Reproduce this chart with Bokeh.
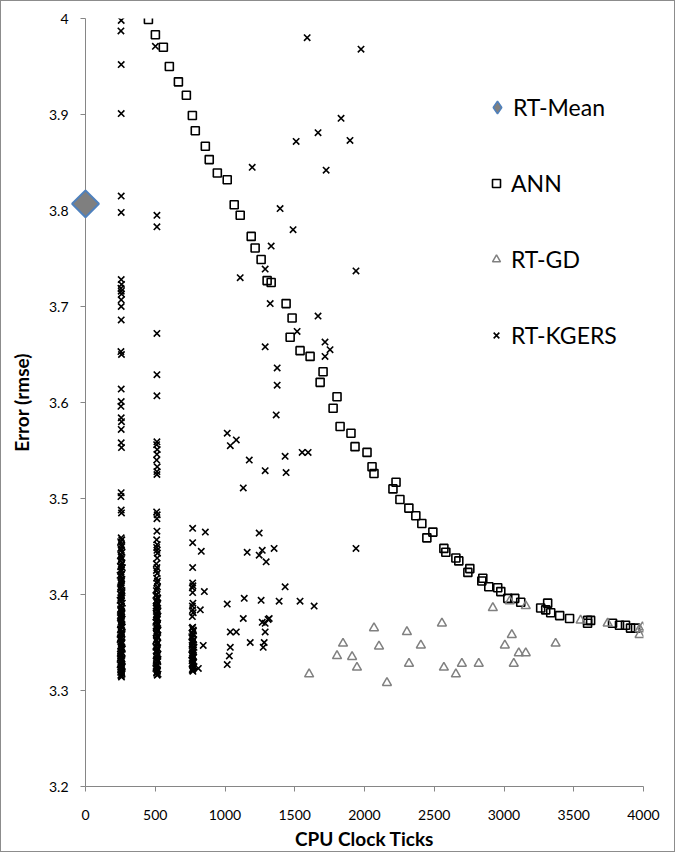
import numpy as np
from bokeh.plotting import figure
from bokeh.models import Range1d, FixedTicker, NumeralTickFormatter, Legend, LegendItem
from bokeh.embed import file_html
from bokeh.resources import INLINE

# ---------------- data ----------------
mean_x = [0]
mean_y = [3.807]

ann_x = [451, 501, 558, 601, 666, 723, 766, 787, 859, 887, 945, 1016, 1066, 1109, 1188, 1216,
         1259, 1302, 1331, 1438, 1481, 1467, 1538, 1610, 1703, 1682, 1803, 1775, 1825, 1903,
         1932, 2018, 2054, 2068, 2226, 2204, 2254, 2318, 2368, 2411, 2490, 2447, 2569, 2583,
         2655, 2676, 2755, 2741, 2848, 2841, 2891, 2955, 2977, 3027, 3077, 3120, 3263, 3313,
         3299, 3335, 3399, 3470, 3599, 3621, 3599, 3778, 3828, 3871, 3907, 3943]
ann_y = [3.999, 3.983, 3.970, 3.950, 3.934, 3.920, 3.899, 3.883, 3.867, 3.853, 3.839, 3.832,
         3.806, 3.795, 3.773, 3.761, 3.749, 3.727, 3.725, 3.703, 3.688, 3.668, 3.654, 3.648,
         3.632, 3.621, 3.606, 3.594, 3.575, 3.568, 3.554, 3.548, 3.533, 3.526, 3.517, 3.510,
         3.499, 3.490, 3.482, 3.474, 3.465, 3.459, 3.448, 3.444, 3.438, 3.435, 3.427, 3.423,
         3.417, 3.414, 3.408, 3.407, 3.403, 3.396, 3.396, 3.392, 3.386, 3.391, 3.384, 3.381,
         3.378, 3.375, 3.373, 3.373, 3.370, 3.370, 3.368, 3.368, 3.365, 3.365]

gd_x = [1603, 1803, 1846, 1911, 1946, 2068, 2104, 2161, 2304, 2319, 2404, 2555, 2569, 2655,
        2698, 2819, 2920, 3006, 3056, 3041, 3070, 3106, 3156, 3156, 3370, 3549, 3743, 3972,
        3993, 3972]
gd_y = [3.317, 3.336, 3.349, 3.335, 3.324, 3.365, 3.346, 3.308, 3.361, 3.328, 3.347, 3.370,
        3.324, 3.317, 3.328, 3.328, 3.386, 3.347, 3.358, 3.393, 3.328, 3.339, 3.388, 3.339,
        3.349, 3.373, 3.370, 3.364, 3.366, 3.358]

# RT-KGERS: column near 256 ticks
k256_y = [3.998, 3.987, 3.952, 3.901, 3.815, 3.798, 3.728, 3.723, 3.719, 3.716, 3.713, 3.707,
          3.700, 3.686, 3.653, 3.650, 3.614, 3.601, 3.596, 3.584, 3.580, 3.572, 3.558, 3.553,
          3.506, 3.502, 3.488, 3.485,
          3.459, 3.455, 3.450, 3.446, 3.441, 3.437, 3.433, 3.429, 3.426, 3.421, 3.418, 3.414,
          3.410, 3.406, 3.402, 3.399, 3.396, 3.393, 3.389, 3.386, 3.383, 3.380, 3.378, 3.375,
          3.372, 3.369, 3.367, 3.364, 3.361, 3.359, 3.356, 3.354, 3.351, 3.349, 3.346, 3.344,
          3.341, 3.339, 3.337, 3.334, 3.332, 3.330, 3.328, 3.326, 3.324, 3.322, 3.320, 3.318,
          3.316, 3.314,
          3.457, 3.452, 3.448, 3.444, 3.439, 3.435, 3.431, 3.428, 3.424, 3.420, 3.416, 3.412,
          3.408, 3.404, 3.400, 3.397, 3.394, 3.391, 3.388, 3.385, 3.382, 3.379, 3.376, 3.374,
          3.371, 3.368, 3.366, 3.363, 3.360, 3.358, 3.355, 3.353, 3.350, 3.348, 3.345, 3.343,
          3.340, 3.338, 3.336, 3.333, 3.331, 3.329, 3.327, 3.325, 3.323, 3.321, 3.319, 3.317,
          3.315]
k256_x = [256, 254, 256, 256, 256, 256, 256, 258, 254, 256, 258, 256,
          256, 256, 254, 258, 256, 256, 254, 256, 258, 256, 256, 258,
          256, 254, 256, 258,
          256, 252, 260, 256, 254, 258, 262, 252, 256, 260, 254, 258,
          256, 250, 262, 256, 254, 258, 252, 260, 256, 262, 250, 256,
          258, 254, 260, 252, 256, 262, 258, 250, 256, 260, 254, 258,
          252, 262, 256, 250, 260, 254, 258, 256, 262, 252, 256, 260,
          254, 258,
          260, 258, 252, 262, 256, 250, 258, 264, 254, 248, 260, 256,
          252, 262, 258, 254, 248, 264, 256, 252, 260, 258, 250, 262,
          254, 258, 264, 250, 256, 260, 252, 248, 262, 256, 254, 264,
          258, 250, 252, 262, 260, 256, 248, 264, 254, 258, 252, 262,
          256]

# column near 512 ticks
k512_y = [3.971, 3.795, 3.783, 3.672, 3.629, 3.607, 3.559, 3.556, 3.551, 3.546, 3.540, 3.533,
          3.528, 3.525, 3.486, 3.483, 3.479, 3.466, 3.457, 3.452, 3.446, 3.443, 3.432, 3.428,
          3.422, 3.417, 3.412, 3.408, 3.404, 3.400, 3.397, 3.394, 3.391, 3.388, 3.385, 3.382,
          3.379, 3.376, 3.373, 3.370, 3.367, 3.364, 3.362, 3.359, 3.356, 3.353, 3.350, 3.348,
          3.345, 3.342, 3.340, 3.337, 3.335, 3.332, 3.330, 3.327, 3.325, 3.322, 3.320, 3.318,
          3.316,
          3.449, 3.438, 3.425, 3.414, 3.406, 3.399, 3.396, 3.392, 3.389, 3.386, 3.383, 3.380,
          3.377, 3.374, 3.371, 3.368, 3.366, 3.363, 3.360, 3.357, 3.355, 3.352, 3.349, 3.346,
          3.344, 3.341, 3.338, 3.336, 3.333, 3.331, 3.328, 3.326, 3.323, 3.321, 3.319, 3.317]
k512_x = [501, 512, 512, 512, 512, 512, 512, 510, 514, 512, 510, 514,
          512, 512, 510, 514, 512, 512, 510, 514, 512, 516, 508, 512,
          514, 510, 512, 516, 508, 512, 514, 510, 518, 506, 512, 516,
          508, 514, 510, 518, 506, 512, 516, 510, 514, 508, 518, 512,
          506, 514, 510, 516, 512, 508, 518, 514, 506, 512, 516, 510,
          514,
          510, 514, 508, 516, 512, 504, 518, 510, 514, 506, 520, 512,
          508, 516, 504, 514, 510, 520, 506, 512, 518, 508, 514, 504,
          516, 510, 520, 506, 512, 518, 508, 514, 504, 516, 510, 520]

# column near 768 ticks and neighbours
k768_x = [768, 768, 768, 768, 770, 766, 768, 770, 766, 768, 772, 766,
          768, 772, 764, 770, 766, 772, 768, 764, 770, 774, 766, 768,
          772, 764, 770, 768, 774, 766, 770,
          859, 830, 852, 823, 844, 809,
          764, 774, 770, 762, 776, 766, 772, 778, 764, 770, 762, 776,
          768, 774, 764, 778, 770, 766]
k768_y = [3.469, 3.454, 3.428, 3.412, 3.409, 3.407, 3.402, 3.391, 3.388, 3.384, 3.381, 3.377,
          3.366, 3.363, 3.360, 3.358, 3.355, 3.352, 3.350, 3.347, 3.344, 3.342, 3.339, 3.336,
          3.334, 3.331, 3.329, 3.327, 3.324, 3.322, 3.320,
          3.465, 3.445, 3.403, 3.384, 3.347, 3.323,
          3.365, 3.362, 3.359, 3.356, 3.353, 3.351, 3.348, 3.345, 3.343, 3.340, 3.337, 3.335,
          3.332, 3.330, 3.328, 3.325, 3.323, 3.321]

# scattered RT-KGERS points
kx_scatter = [1589, 1975, 1832, 1896, 1667, 1510, 1725, 1195, 1395, 1488, 1331, 1288, 1109,
              1939, 1324, 1667, 1517, 1288, 1374, 1374, 1367, 1016, 1081, 1038, 1174, 1431,
              1288, 1438, 1553, 1596, 1131, 1717, 1753, 1717, 1939, 1016, 1038, 1081, 1038,
              1031, 1016, 1138, 1131, 1181, 1159, 1245, 1267, 1245, 1295, 1352, 1259, 1267,
              1288, 1317, 1309, 1288, 1281, 1274, 1388, 1431, 1538, 1639]
ky_scatter = [3.980, 3.968, 3.896, 3.873, 3.881, 3.872, 3.842, 3.845, 3.802, 3.780, 3.763,
              3.739, 3.730, 3.737, 3.703, 3.690, 3.674, 3.658, 3.636, 3.618, 3.587, 3.568,
              3.561, 3.555, 3.540, 3.544, 3.529, 3.527, 3.548, 3.548, 3.511, 3.663, 3.655,
              3.648, 3.448, 3.390, 3.361, 3.361, 3.345, 3.336, 3.327, 3.396, 3.375, 3.350,
              3.444, 3.464, 3.446, 3.441, 3.434, 3.448, 3.394, 3.371, 3.370, 3.375, 3.374,
              3.361, 3.350, 3.345, 3.393, 3.408, 3.393, 3.388]

kg_x = k256_x + k512_x + k768_x + kx_scatter
kg_y = k256_y + k512_y + k768_y + ky_scatter

x_ticks = [0, 500, 1000, 1500, 2000, 2500, 3000, 3500, 4000]
y_ticks = [3.2, 3.3, 3.4, 3.5, 3.6, 3.7, 3.8, 3.9, 4.0]

FONT = "Lato"
AXIS_GRAY = "#868686"
MEAN_FILL = "#7f7f7f"
MEAN_LINE = "#4f81bd"

p = figure(width=675, height=852, output_backend="svg", toolbar_location=None,
           x_range=Range1d(0, 4000), y_range=Range1d(3.2, 4.0),
           min_border_left=84, min_border_right=33, min_border_top=17, min_border_bottom=67)
p.styles = {"border": "1px solid #8c8c8c"}
p.outline_line_color = None
p.xgrid.visible = False
p.ygrid.visible = False
p.background_fill_color = "white"
p.border_fill_color = "white"

r_ann = p.scatter(ann_x, ann_y, marker="square", size=8, fill_alpha=0,
                  line_color="black", line_width=1.6)
r_gd = p.scatter(gd_x, gd_y, marker="triangle", size=9, fill_alpha=0,
                 line_color="#808080", line_width=1.5)
r_kg = p.scatter(kg_x, kg_y, marker="x", size=9, line_color="black", line_width=1.6)
# legend proxy for the diamond (legend glyphs are drawn unrotated); hidden under the big marker
r_mean_leg = p.scatter(mean_x, mean_y, marker="diamond", size=15,
                       fill_color=MEAN_FILL, line_color=MEAN_LINE, line_width=1.5)
r_mean = p.scatter(mean_x, mean_y, marker="square", angle=np.pi / 4, size=19,
                   fill_color=MEAN_FILL, line_color=MEAN_LINE, line_width=2, level="overlay")

for ax, ticks in ((p.xaxis[0], x_ticks), (p.yaxis[0], y_ticks)):
    ax.ticker = FixedTicker(ticks=ticks)
    ax.axis_line_color = AXIS_GRAY
    ax.major_tick_line_color = AXIS_GRAY
    ax.minor_tick_line_color = None
    ax.major_tick_in = 0
    ax.major_tick_out = 5
    ax.major_label_text_font = FONT
    ax.major_label_text_font_size = "14px"
    ax.major_label_text_color = "black"
    ax.axis_label_text_font = FONT
    ax.axis_label_text_font_size = "19px"
    ax.axis_label_text_font_style = "bold"
    ax.axis_label_text_color = "black"

p.xaxis.axis_label = "CPU Clock Ticks"
p.yaxis.axis_label = "Error (rmse)"
p.yaxis.formatter = NumeralTickFormatter(format="0.[0]")
p.xaxis.formatter = NumeralTickFormatter(format="0")
p.yaxis.major_label_standoff = 12
p.yaxis.axis_label_standoff = 13
p.xaxis.major_label_standoff = 18
p.xaxis.axis_label_standoff = 4

common = dict(padding=0, margin=0, label_text_font=FONT, label_text_font_size="23px",
              label_text_color="black", background_fill_alpha=0, border_line_color=None)

legend_a = Legend(items=[LegendItem(label="RT-Mean", renderers=[r_mean_leg])],
                  location=(396, 663), glyph_width=32, glyph_height=32, label_height=30,
                  label_standoff=0, **common)
legend_b = Legend(items=[LegendItem(label="ANN", renderers=[r_ann]),
                         LegendItem(label="RT-GD", renderers=[r_gd]),
                         LegendItem(label="RT-KGERS", renderers=[r_kg])],
                  location=(401, 437), spacing=48, glyph_width=20, glyph_height=28,
                  label_height=28, label_standoff=5, **common)
p.add_layout(legend_a)
p.add_layout(legend_b)

open("out.html", "w").write(file_html(p, INLINE))
